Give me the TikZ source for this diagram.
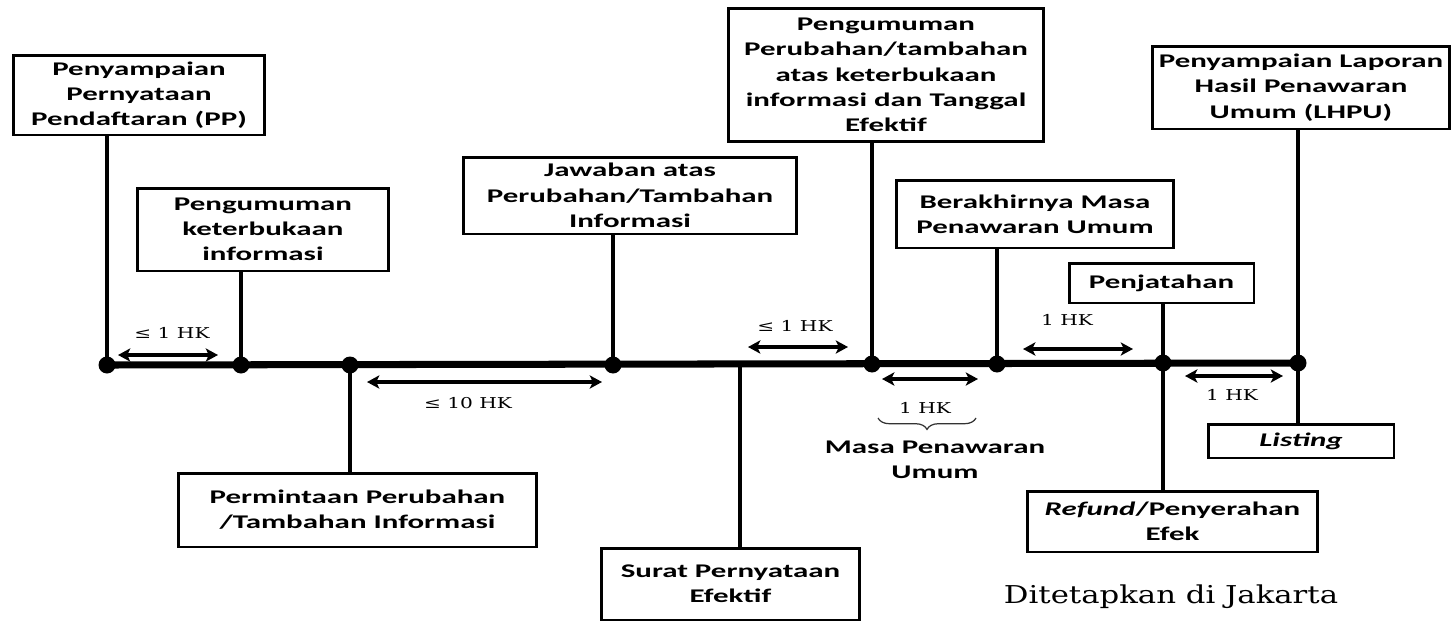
\documentclass[tikz,border=0pt]{standalone}
\usepackage{fontspec}
\setmainfont{Carlito}[FakeStretch=1.6]
\newfontfamily\hkfont{DejaVu Serif}[FakeStretch=1.35]
\newfontfamily\placefont{DejaVu Serif}[FakeStretch=1.25]
\usetikzlibrary{arrows.meta}
\usetikzlibrary{calc}
\usetikzlibrary{decorations.pathreplacing}
\tikzset{>={Stealth[length=7pt, width=7.5pt, inset=1.8pt]}}
\tikzset{box/.style={draw, line width=1.7pt, align=center, inner sep=0pt, font=\bfseries\fontsize{11}{14.4}\selectfont}}
\tikzset{dot/.style={circle, fill, inner sep=0pt, minimum size=0.34cm}}
\tikzset{stem/.style={line width=2.3pt}}
\tikzset{hk/.style={font=\hkfont\fontsize{8.5}{10}\selectfont}}
\tikzset{span/.style={<->, line width=2pt}}

\begin{document}
\begin{tikzpicture}[x=0.02cm, y=-0.02cm]
\useasboundingbox (0,0) rectangle (1453,622);

% the points on the time line
\node[dot] (d1) at (107,365) {};
\node[dot] (d2) at (241,365) {};
\node[dot] (d3) at (350,365) {};
\node[dot] (d4) at (613,365) {};
\node[dot] (d5) at (872,364) {};
\node[dot] (d6) at (997,364) {};
\node[dot] (d7) at (1163,363) {};
\node[dot] (d8) at (1298,363) {};
\coordinate (s) at (740,365);

\draw[line width=4pt] (d1.center) -- (d8.center);

% boxes above the line
\node[box, minimum width=5.04cm, minimum height=1.6cm] (pp) at (139,95)
  {Penyampaian\\Pernyataan\\Pendaftaran (PP)};
\node[box, minimum width=5.04cm, minimum height=1.66cm] (ket) at (263,229.5)
  {Pengumuman\\keterbukaan\\informasi};
\node[box, minimum width=6.68cm, minimum height=1.54cm] (jaw) at (630,195.5)
  {Jawaban atas\\Perubahan/Tambahan\\Informasi};
\node[box, minimum width=6.32cm, minimum height=2.68cm] (tgl) at (886,75)
  {Pengumuman\\Perubahan/tambahan\\atas keterbukaan\\informasi dan Tanggal\\Efektif};
\node[box, minimum width=5.56cm, minimum height=1.36cm] (akh) at (1035,214)
  {Berakhirnya Masa\\Penawaran Umum};
\node[box, minimum width=3.7cm, minimum height=0.8cm] (jat) at (1161.5,283)
  {Penjatahan};
\node[box, minimum width=5.96cm, minimum height=1.66cm] (lhpu) at (1301,87.5)
  {Penyampaian Laporan\\Hasil Penawaran\\Umum (LHPU)};

% boxes below the line
\node[box, minimum width=7.18cm, minimum height=1.48cm] (prm) at (357.5,510)
  {Permintaan Perubahan\\/Tambahan Informasi};
\node[box, minimum width=5.18cm, minimum height=1.44cm] (srt) at (730.5,584)
  {Surat Pernyataan\\Efektif};
\node[box, minimum width=5.82cm, minimum height=1.22cm] (ref) at (1172.5,521.5)
  {\textit{Refund}/Penyerahan\\Efek};
\node[box, minimum width=3.72cm, minimum height=0.68cm] (lst) at (1301,441)
  {\textit{Listing}};

\draw[stem] (d1.center) -- (d1 |- pp.south);
\draw[stem] (d2.center) -- (d2 |- ket.south);
\draw[stem] (d4.center) -- (d4 |- jaw.south);
\draw[stem] (d5.center) -- (d5 |- tgl.south);
\draw[stem] (d6.center) -- (d6 |- akh.south);
\draw[stem] (d7.center) -- (d7 |- jat.south);
\draw[stem] (d8.center) -- (d8 |- lhpu.south);
\draw[stem] (d3.center) -- (d3 |- prm.north);
\draw[stem] (s) -- (s |- srt.north);
\draw[stem] (d7.center) -- (d7 |- ref.north);
\draw[stem] (d8.center) -- (d8 |- lst.north);

% durations
\coordinate (a1l) at (118,355);  \coordinate (a1r) at (218,355);
\coordinate (a2l) at (367,382);  \coordinate (a2r) at (602,382);
\coordinate (a3l) at (748,347);  \coordinate (a3r) at (848,347);
\coordinate (a4l) at (882,379);  \coordinate (a4r) at (978,379);
\coordinate (a5l) at (1023,349); \coordinate (a5r) at (1133,349);
\coordinate (a6l) at (1185,376); \coordinate (a6r) at (1283,376);

\draw[span] (a1l) -- (a1r);
\draw[span] (a2l) -- (a2r);
\draw[span] (a3l) -- (a3r);
\draw[span] (a4l) -- (a4r);
\draw[span] (a5l) -- (a5r);
\draw[span] (a6l) -- (a6r);

\node[hk] (t1) at (172,333) {≤ 1 HK};
\node[hk] (t2) at (468,403) {≤ 10 HK};
\node[hk] (t3) at (795,326) {≤ 1 HK};
\node[hk] (t4) at (925,408) {1 HK};
\node[hk] (t5) at (1067,320) {1 HK};
\node[hk] (t6) at (1232,395) {1 HK};

\coordinate (b1) at (878,418);
\coordinate (b2) at (976,418);
\draw[decorate, decoration={brace, mirror, amplitude=6.5pt}, line width=0.7pt, black!80] (b1) -- (b2);
\node[font=\bfseries\fontsize{11}{14.4}\selectfont, align=center] (masa) at (935,460)
  {Masa Penawaran\\Umum};

\node[font=\placefont\fontsize{14}{16}\selectfont] (place) at (1171,597) {Ditetapkan di Jakarta};

\end{tikzpicture}
\end{document}
